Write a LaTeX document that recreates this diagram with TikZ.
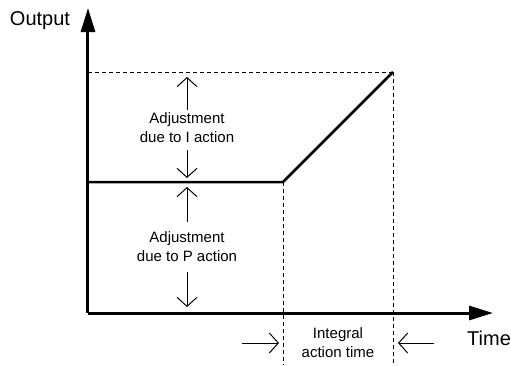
\documentclass[tikz,border=0pt]{standalone}
\usepackage{fontspec}
\setmainfont{Liberation Sans}
\usetikzlibrary{positioning, arrows.meta}

\begin{document}
\begin{tikzpicture}[
    x=1pt, y=1pt,
    axis/.style={line width=3pt, -{Triangle[length=24pt,width=14pt]}},
    response/.style={line width=2.5pt, line join=miter},
    guide/.style={line width=1pt, dash pattern=on 4pt off 3pt},
    span/.style={line width=1pt, -{Straight Barb[length=9pt,width=20pt]}},
    note/.style={align=center, font=\fontsize{15}{19}\selectfont, inner sep=1pt},
    title/.style={font=\fontsize{20}{24}\selectfont, inner sep=0pt}
]
\useasboundingbox (-88,-52) rectangle (423,313);

% axes
\coordinate (origin) at (0,0);
\coordinate (ytip) at (0,305);
\coordinate (xtip) at (405,0);
\draw[axis] (origin) -- (ytip);
\draw[axis] (origin) -- (xtip);
\node[title] (output) at (-48,292) {Output};
\node[title, anchor=west] (time) at (379,-25) {Time};

% controller output: P step then I ramp
\coordinate (step) at (0,131);
\coordinate (knee) at (195,131);
\coordinate (peak) at (305,241);
\coordinate (top) at (0,241);
\draw[guide] (top) -- (peak);
\draw[guide] (knee) -- (195,-52) coordinate (kneefoot);
\draw[guide] (peak) -- (305,-52) coordinate (peakfoot);
\draw[response] (step) -- (knee) -- (peak);

% I action span
\node[note] (iact) at (99,185.5) {Adjustment\\due to I action};
\coordinate (itop) at (99,236);
\coordinate (ibot) at (99,135);
\draw[span] (99,203) -- (itop);
\draw[span] (99,163) -- (ibot);

% P action span
\node[note] (pact) at (99,66.5) {Adjustment\\due to P action};
\coordinate (ptop) at (99,126);
\coordinate (pbot) at (99,6);
\draw[span] (99,91) -- (ptop);
\draw[span] (99,41) -- (pbot);

% integral action time
\node[note] (itime) at (250,-29.5) {Integral\\action time};
\coordinate (tleft) at (191,-30);
\coordinate (tright) at (310,-30);
\draw[span] (154,-30) -- (tleft);
\draw[span] (346,-30) -- (tright);

\end{tikzpicture}
\end{document}
